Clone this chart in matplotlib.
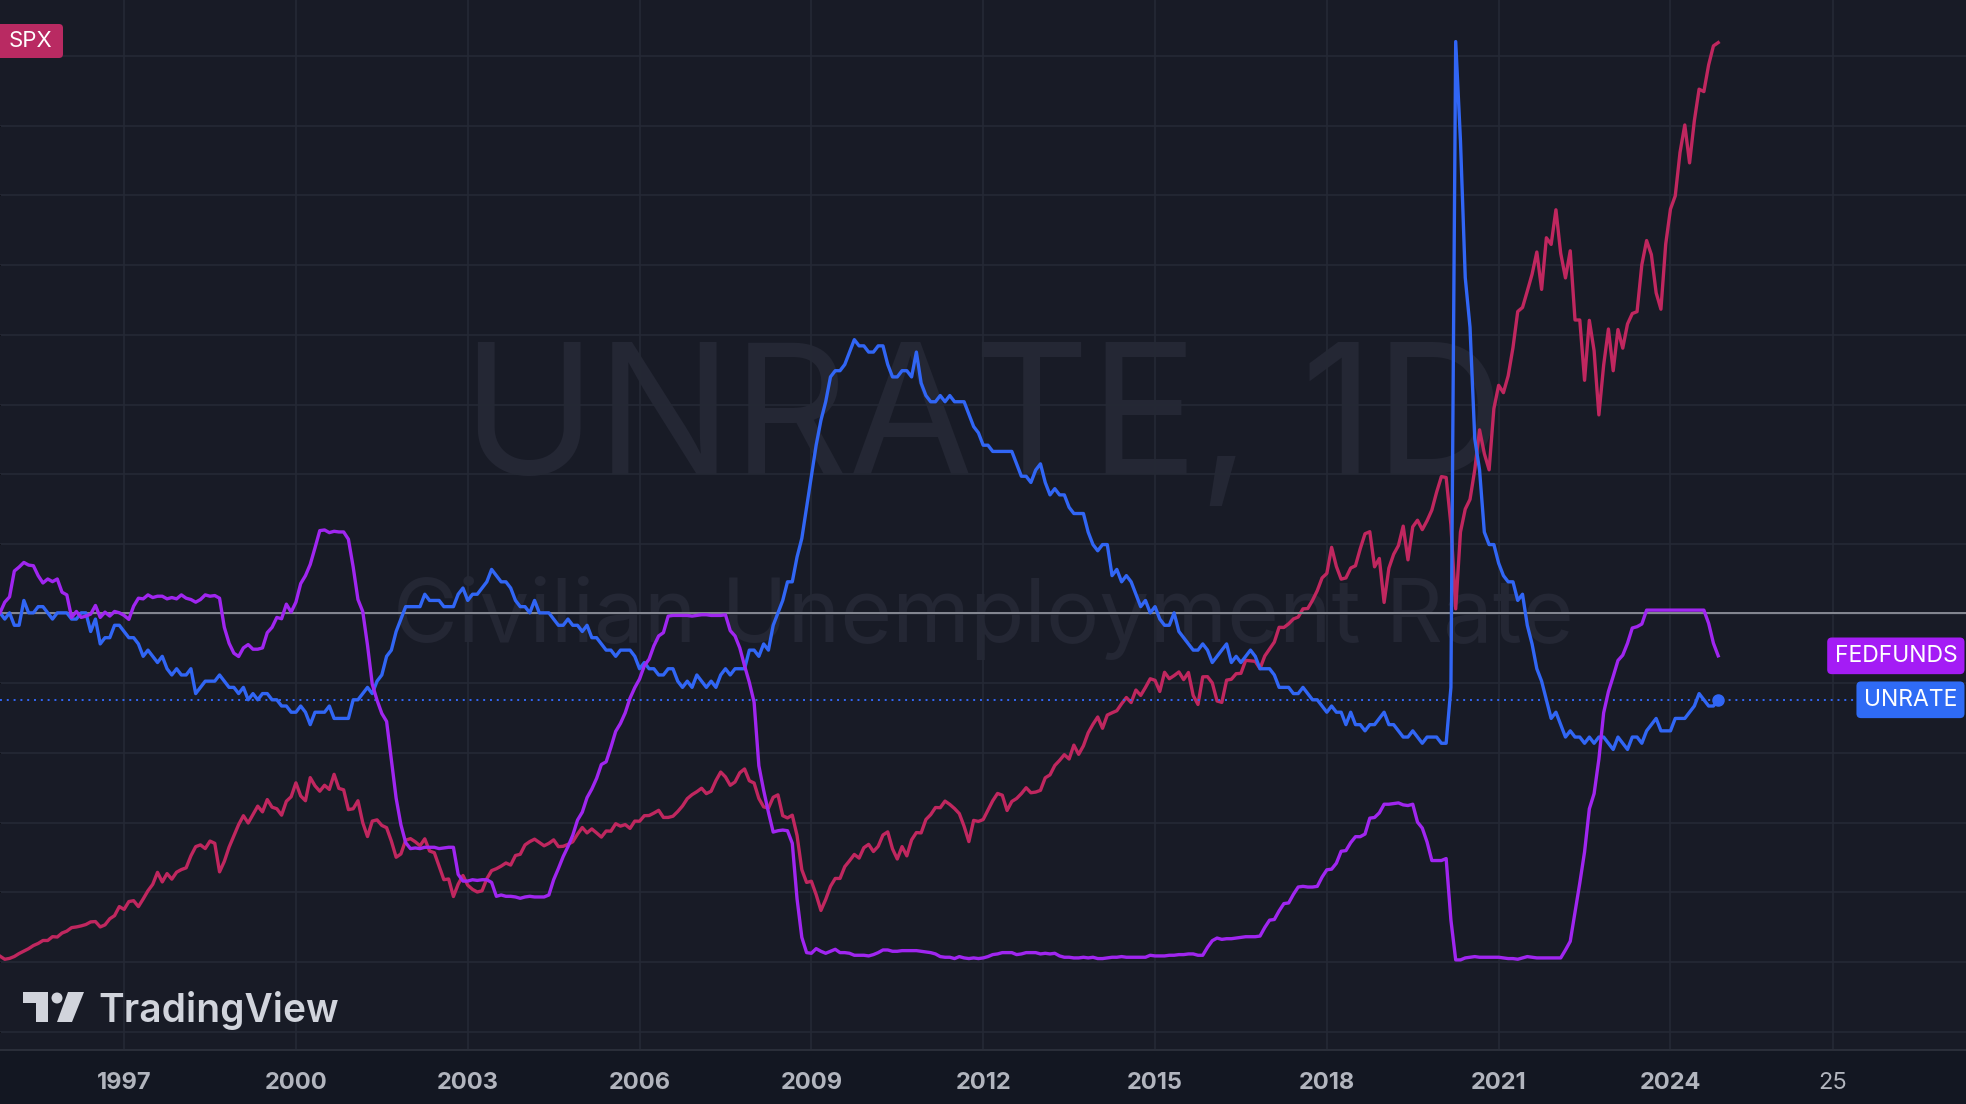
import numpy as np
import matplotlib.pyplot as plt
import matplotlib.transforms as mtransforms
from matplotlib.patches import Polygon, Circle, FancyBboxPatch

plt.rcParams['font.family'] = ['Inter', 'DejaVu Sans']

W, H = 1966, 1104

# monthly values, Nov 1994 .. Nov 2024
unrate = [5.6, 5.5,
          5.6, 5.4, 5.4, 5.8, 5.6, 5.6, 5.7, 5.7, 5.6, 5.5, 5.6, 5.6,
          5.6, 5.5, 5.5, 5.6, 5.6, 5.3, 5.5, 5.1, 5.2, 5.2, 5.4, 5.4,
          5.3, 5.2, 5.2, 5.1, 4.9, 5.0, 4.9, 4.8, 4.9, 4.7, 4.6, 4.7,
          4.6, 4.6, 4.7, 4.3, 4.4, 4.5, 4.5, 4.5, 4.6, 4.5, 4.4, 4.4,
          4.3, 4.4, 4.2, 4.3, 4.2, 4.3, 4.3, 4.2, 4.2, 4.1, 4.1, 4.0,
          4.0, 4.1, 4.0, 3.8, 4.0, 4.0, 4.0, 4.1, 3.9, 3.9, 3.9, 3.9,
          4.2, 4.2, 4.3, 4.4, 4.3, 4.5, 4.6, 4.9, 5.0, 5.3, 5.5, 5.7,
          5.7, 5.7, 5.7, 5.9, 5.8, 5.8, 5.8, 5.7, 5.7, 5.7, 5.9, 6.0,
          5.8, 5.9, 5.9, 6.0, 6.1, 6.3, 6.2, 6.1, 6.1, 6.0, 5.8, 5.7,
          5.7, 5.6, 5.8, 5.6, 5.6, 5.6, 5.5, 5.4, 5.4, 5.5, 5.4, 5.4,
          5.3, 5.4, 5.2, 5.2, 5.1, 5.0, 5.0, 4.9, 5.0, 5.0, 5.0, 4.9,
          4.7, 4.8, 4.7, 4.7, 4.6, 4.6, 4.7, 4.7, 4.5, 4.4, 4.5, 4.4,
          4.6, 4.5, 4.4, 4.5, 4.4, 4.6, 4.7, 4.6, 4.7, 4.7, 4.7, 5.0,
          5.0, 4.9, 5.1, 5.0, 5.4, 5.6, 5.8, 6.1, 6.1, 6.5, 6.8, 7.3,
          7.8, 8.3, 8.7, 9.0, 9.4, 9.5, 9.5, 9.6, 9.8, 10.0, 9.9, 9.9,
          9.8, 9.8, 9.9, 9.9, 9.6, 9.4, 9.4, 9.5, 9.5, 9.4, 9.8, 9.3,
          9.1, 9.0, 9.0, 9.1, 9.0, 9.1, 9.0, 9.0, 9.0, 8.8, 8.6, 8.5,
          8.3, 8.3, 8.2, 8.2, 8.2, 8.2, 8.2, 8.0, 7.8, 7.8, 7.7, 7.9,
          8.0, 7.7, 7.5, 7.6, 7.5, 7.5, 7.3, 7.2, 7.2, 7.2, 6.9, 6.7,
          6.6, 6.7, 6.7, 6.2, 6.3, 6.1, 6.2, 6.1, 5.9, 5.7, 5.8, 5.6,
          5.7, 5.5, 5.4, 5.4, 5.6, 5.3, 5.2, 5.1, 5.0, 5.0, 5.1, 5.0,
          4.8, 4.9, 5.0, 5.1, 4.8, 4.9, 4.8, 4.9, 5.0, 4.9, 4.7, 4.7,
          4.7, 4.6, 4.4, 4.4, 4.4, 4.3, 4.3, 4.4, 4.3, 4.2, 4.2, 4.1,
          4.0, 4.1, 4.0, 4.0, 3.8, 4.0, 3.8, 3.8, 3.7, 3.8, 3.8, 3.9,
          4.0, 3.8, 3.8, 3.7, 3.6, 3.6, 3.7, 3.6, 3.5, 3.6, 3.6, 3.6,
          3.5, 3.5, 4.4, 14.8, 13.2, 11.0, 10.2, 8.4, 7.9, 6.9, 6.7, 6.7,
          6.4, 6.2, 6.1, 6.1, 5.8, 5.9, 5.4, 5.1, 4.7, 4.5, 4.2, 3.9,
          4.0, 3.8, 3.6, 3.7, 3.6, 3.6, 3.5, 3.6, 3.5, 3.6, 3.6, 3.5,
          3.4, 3.6, 3.5, 3.4, 3.6, 3.6, 3.5, 3.7, 3.8, 3.9, 3.7, 3.7,
          3.7, 3.9, 3.9, 3.9, 4.0, 4.1, 4.3, 4.2, 4.1, 4.1, 4.2]

fedfunds = [5.29, 5.45,
            5.53, 5.92, 5.98, 6.05, 6.01, 6.00, 5.85, 5.74, 5.80, 5.76, 5.80, 5.60,
            5.56, 5.22, 5.31, 5.22, 5.24, 5.27, 5.40, 5.22, 5.30, 5.24, 5.31, 5.29,
            5.25, 5.19, 5.39, 5.51, 5.50, 5.56, 5.52, 5.54, 5.54, 5.50, 5.52, 5.50,
            5.56, 5.51, 5.49, 5.45, 5.49, 5.56, 5.54, 5.55, 5.51, 5.07, 4.83, 4.68,
            4.63, 4.76, 4.81, 4.74, 4.74, 4.76, 4.99, 5.07, 5.22, 5.20, 5.42, 5.30,
            5.45, 5.73, 5.85, 6.02, 6.27, 6.53, 6.54, 6.50, 6.52, 6.51, 6.51, 6.40,
            5.98, 5.49, 5.31, 4.80, 4.21, 3.97, 3.77, 3.65, 3.07, 2.49, 2.09, 1.82,
            1.73, 1.74, 1.73, 1.75, 1.75, 1.75, 1.73, 1.74, 1.75, 1.75, 1.34, 1.24,
            1.24, 1.26, 1.25, 1.26, 1.26, 1.22, 1.01, 1.03, 1.01, 1.01, 1.00, 0.98,
            1.00, 1.01, 1.00, 1.00, 1.00, 1.03, 1.26, 1.43, 1.61, 1.76, 1.93, 2.16,
            2.28, 2.50, 2.63, 2.79, 3.00, 3.04, 3.26, 3.50, 3.62, 3.78, 4.00, 4.16,
            4.29, 4.49, 4.59, 4.79, 4.94, 4.99, 5.24, 5.25, 5.25, 5.25, 5.25, 5.24,
            5.25, 5.26, 5.26, 5.25, 5.25, 5.25, 5.26, 5.02, 4.94, 4.76, 4.49, 4.24,
            3.94, 2.98, 2.61, 2.28, 1.98, 2.00, 2.01, 2.00, 1.81, 0.97, 0.39, 0.16,
            0.15, 0.22, 0.18, 0.15, 0.18, 0.21, 0.16, 0.16, 0.15, 0.12, 0.12, 0.12,
            0.11, 0.13, 0.16, 0.20, 0.20, 0.18, 0.18, 0.19, 0.19, 0.19, 0.19, 0.18,
            0.17, 0.16, 0.14, 0.10, 0.09, 0.09, 0.07, 0.10, 0.08, 0.07, 0.08, 0.07,
            0.08, 0.10, 0.13, 0.14, 0.16, 0.16, 0.16, 0.13, 0.14, 0.16, 0.16, 0.16,
            0.14, 0.15, 0.14, 0.15, 0.11, 0.09, 0.09, 0.08, 0.08, 0.09, 0.08, 0.09,
            0.07, 0.07, 0.08, 0.09, 0.09, 0.10, 0.09, 0.09, 0.09, 0.09, 0.09, 0.12,
            0.11, 0.11, 0.11, 0.12, 0.12, 0.13, 0.13, 0.14, 0.14, 0.12, 0.12, 0.24,
            0.34, 0.38, 0.36, 0.37, 0.37, 0.38, 0.39, 0.40, 0.40, 0.40, 0.41, 0.54,
            0.65, 0.66, 0.79, 0.90, 0.91, 1.04, 1.15, 1.16, 1.15, 1.15, 1.16, 1.30,
            1.41, 1.42, 1.51, 1.69, 1.70, 1.82, 1.91, 1.91, 1.95, 2.19, 2.20, 2.27,
            2.40, 2.40, 2.41, 2.42, 2.39, 2.38, 2.40, 2.13, 2.04, 1.83, 1.55, 1.55,
            1.55, 1.58, 0.65, 0.05, 0.05, 0.08, 0.09, 0.10, 0.09, 0.09, 0.09, 0.09,
            0.09, 0.08, 0.07, 0.07, 0.06, 0.08, 0.10, 0.09, 0.08, 0.08, 0.08, 0.08,
            0.08, 0.08, 0.20, 0.33, 0.77, 1.21, 1.68, 2.33, 2.56, 3.08, 3.78, 4.10,
            4.33, 4.57, 4.65, 4.83, 5.06, 5.08, 5.12, 5.33, 5.33, 5.33, 5.33, 5.33,
            5.33, 5.33, 5.33, 5.33, 5.33, 5.33, 5.33, 5.33, 5.13, 4.83, 4.64]

spx = [472, 454, 459,
       470, 487, 501, 515, 533, 545, 562, 562, 584, 582, 605, 616,
       636, 640, 646, 654, 669, 671, 640, 652, 687, 705, 757, 741,
       786, 791, 757, 801, 848, 885, 954, 899, 947, 915, 955, 970,
       980, 1049, 1102, 1112, 1091, 1134, 1121, 957, 1017, 1099, 1164, 1229,
       1280, 1238, 1286, 1335, 1302, 1373, 1329, 1320, 1283, 1363, 1389, 1469,
       1394, 1366, 1499, 1452, 1421, 1455, 1431, 1518, 1437, 1429, 1315, 1320,
       1366, 1240, 1160, 1249, 1256, 1224, 1211, 1134, 1041, 1060, 1139, 1148,
       1130, 1107, 1147, 1077, 1067, 990, 912, 916, 815, 886, 936, 880,
       856, 841, 848, 917, 964, 975, 990, 1008, 996, 1051, 1058, 1112,
       1131, 1145, 1126, 1107, 1121, 1141, 1102, 1104, 1115, 1130, 1174, 1212,
       1181, 1204, 1181, 1157, 1192, 1191, 1234, 1220, 1229, 1207, 1249, 1248,
       1280, 1281, 1295, 1311, 1270, 1270, 1277, 1304, 1336, 1378, 1401, 1418,
       1438, 1407, 1421, 1482, 1531, 1503, 1455, 1474, 1527, 1549, 1481, 1468,
       1379, 1331, 1323, 1386, 1400, 1280, 1267, 1283, 1166, 969, 896, 903,
       826, 735, 798, 873, 919, 919, 987, 1021, 1057, 1036, 1096, 1115,
       1074, 1104, 1169, 1187, 1089, 1031, 1102, 1049, 1141, 1183, 1181, 1258,
       1286, 1327, 1326, 1364, 1345, 1321, 1292, 1219, 1131, 1253, 1247, 1258,
       1312, 1366, 1408, 1398, 1310, 1362, 1379, 1407, 1441, 1412, 1416, 1426,
       1498, 1515, 1569, 1598, 1631, 1606, 1686, 1633, 1682, 1757, 1806, 1848,
       1783, 1859, 1872, 1884, 1924, 1960, 1931, 2003, 1972, 2018, 2068, 2059,
       1995, 2105, 2068, 2086, 2107, 2063, 2104, 1972, 1920, 2079, 2080, 2044,
       1940, 1932, 2060, 2065, 2097, 2099, 2174, 2171, 2168, 2126, 2199, 2239,
       2279, 2364, 2363, 2384, 2412, 2423, 2470, 2472, 2519, 2575, 2648, 2674,
       2824, 2714, 2641, 2648, 2705, 2718, 2816, 2902, 2914, 2712, 2760, 2507,
       2704, 2784, 2834, 2946, 2752, 2942, 2980, 2926, 2977, 3038, 3141, 3231,
       3226, 2954, 2470, 2912, 3044, 3100, 3271, 3500, 3363, 3270, 3622, 3756,
       3714, 3811, 3973, 4181, 4204, 4298, 4395, 4523, 4308, 4605, 4567, 4766,
       4516, 4374, 4530, 4132, 4132, 3785, 4130, 3955, 3586, 3872, 4080, 3840,
       4077, 3970, 4109, 4169, 4180, 4450, 4589, 4508, 4288, 4194, 4568, 4770,
       4846, 5096, 5254, 5036, 5278, 5460, 5446, 5600, 5709, 5728]

months = 1994 + 10 / 12 + np.arange(len(unrate)) / 12

tick_years = [1997, 2000, 2003, 2006, 2009, 2012, 2015, 2018, 2021, 2024, 2026.83]
tick_labels = ['1997', '2000', '2003', '2006', '2009', '2012', '2015', '2018', '2021', '2024', '25']

spx_color = '#c0275f'
un_color = '#3166f5'
fed_color = '#a026f0'

fig = plt.figure(figsize=(W / 100, H / 100), dpi=100, facecolor='#131722')
ax = fig.add_axes([0, 54 / H, 1, 1050 / H])
ax.set_facecolor('#181b26')
ax.set_xlim(months[0], 2029.16)
ax.set_ylim(1050, 0)
ax.set_yticks(np.arange(56, 1050, 69.7))
ax.grid(True, color='#252935', lw=1.2)
ax.tick_params(axis='y', left=False, labelleft=False)
ax.set_xticks(tick_years)
ax.set_xticklabels(tick_labels)
ax.tick_params(axis='x', length=0, pad=16, labelsize=17, labelcolor='#b2b5be')
for lab in ax.get_xticklabels()[:-1]:
    lab.set_fontweight('bold')
for s in ['top', 'left', 'right']:
    ax.spines[s].set_visible(False)
ax.spines['bottom'].set_color('#2a2e39')
ax.spines['bottom'].set_linewidth(1.5)

# watermark
ax.text(0.5, 0.5486, 'UNRATE, 1D', transform=ax.transAxes, ha='center', va='baseline',
        fontsize=130, color='#242734', zorder=0)
ax.text(0.5, 0.3886, 'Civilian Unemployment Rate', transform=ax.transAxes, ha='center',
        va='baseline', fontsize=64, color='#242734', zorder=0)

ax_spx = ax.twinx()
ax_un = ax.twinx()
ax_fed = ax.twinx()
for a in (ax_spx, ax_un, ax_fed):
    a.set_yticks([])
    for s in a.spines.values():
        s.set_visible(False)

ax_spx.set_ylim(-68, 5973)
ax_un.set_ylim(-1.44, 15.47)
ax_fed.set_ylim(-1.31, 14.54)

ax_spx.plot(months, spx, color=spx_color, lw=2.4)
ax_un.axhline(unrate[0], color='#868993', lw=1.4)
ax_un.axhline(unrate[-1], color=un_color, lw=1.4, ls=(0, (1, 2.5)))
ax_un.plot(months, unrate, color=un_color, lw=2.4)
ax_un.plot(months[-1], unrate[-1], 'o', color=un_color, ms=8)
ax_fed.plot(months, fedfunds, color=fed_color, lw=2.4)

right = mtransforms.blended_transform_factory(ax.transAxes, ax_fed.transData)
ax_fed.text(0.9955, fedfunds[-1], 'FEDFUNDS', transform=right, ha='right', va='center',
            color='white', fontsize=16.5,
            bbox=dict(boxstyle='round,pad=0.32,rounding_size=0.2', fc='#a41cf5', ec='none'))
right_un = mtransforms.blended_transform_factory(ax.transAxes, ax_un.transData)
ax_un.text(0.9955, unrate[-1], 'UNRATE', transform=right_un, ha='right', va='center',
           color='white', fontsize=16.5,
           bbox=dict(boxstyle='round,pad=0.32,rounding_size=0.2', fc='#2f6bf5', ec='none'))

# pixel transform, origin top-left
px = mtransforms.Affine2D().scale(1, -1).translate(0, H)

fig.patches.append(FancyBboxPatch((-12, 24), 75, 34, boxstyle='round,pad=0,rounding_size=4',
                                  transform=px, fc='#b92a62', ec='none'))
fig.text(9, 41, 'SPX', transform=px, ha='left', va='center', color='white', fontsize=16)

# TradingView logo
logo = '#d1d4dc'
fig.patches.append(Polygon([(23, 992), (48, 992), (48, 1022), (36, 1022), (36, 1003), (23, 1003)],
                           closed=True, transform=px, fc=logo, ec='none'))
fig.patches.append(Circle((57, 998), 5.5, transform=px, fc=logo, ec='none'))
fig.patches.append(Polygon([(68, 992), (84, 992), (72, 1022), (57, 1022)],
                           closed=True, transform=px, fc=logo, ec='none'))
fig.text(98, 1022, 'TradingView', transform=px, ha='left', va='baseline', color=logo,
         fontsize=28, fontweight='semibold')

fig.savefig('out.png', dpi=100, facecolor=fig.get_facecolor())
